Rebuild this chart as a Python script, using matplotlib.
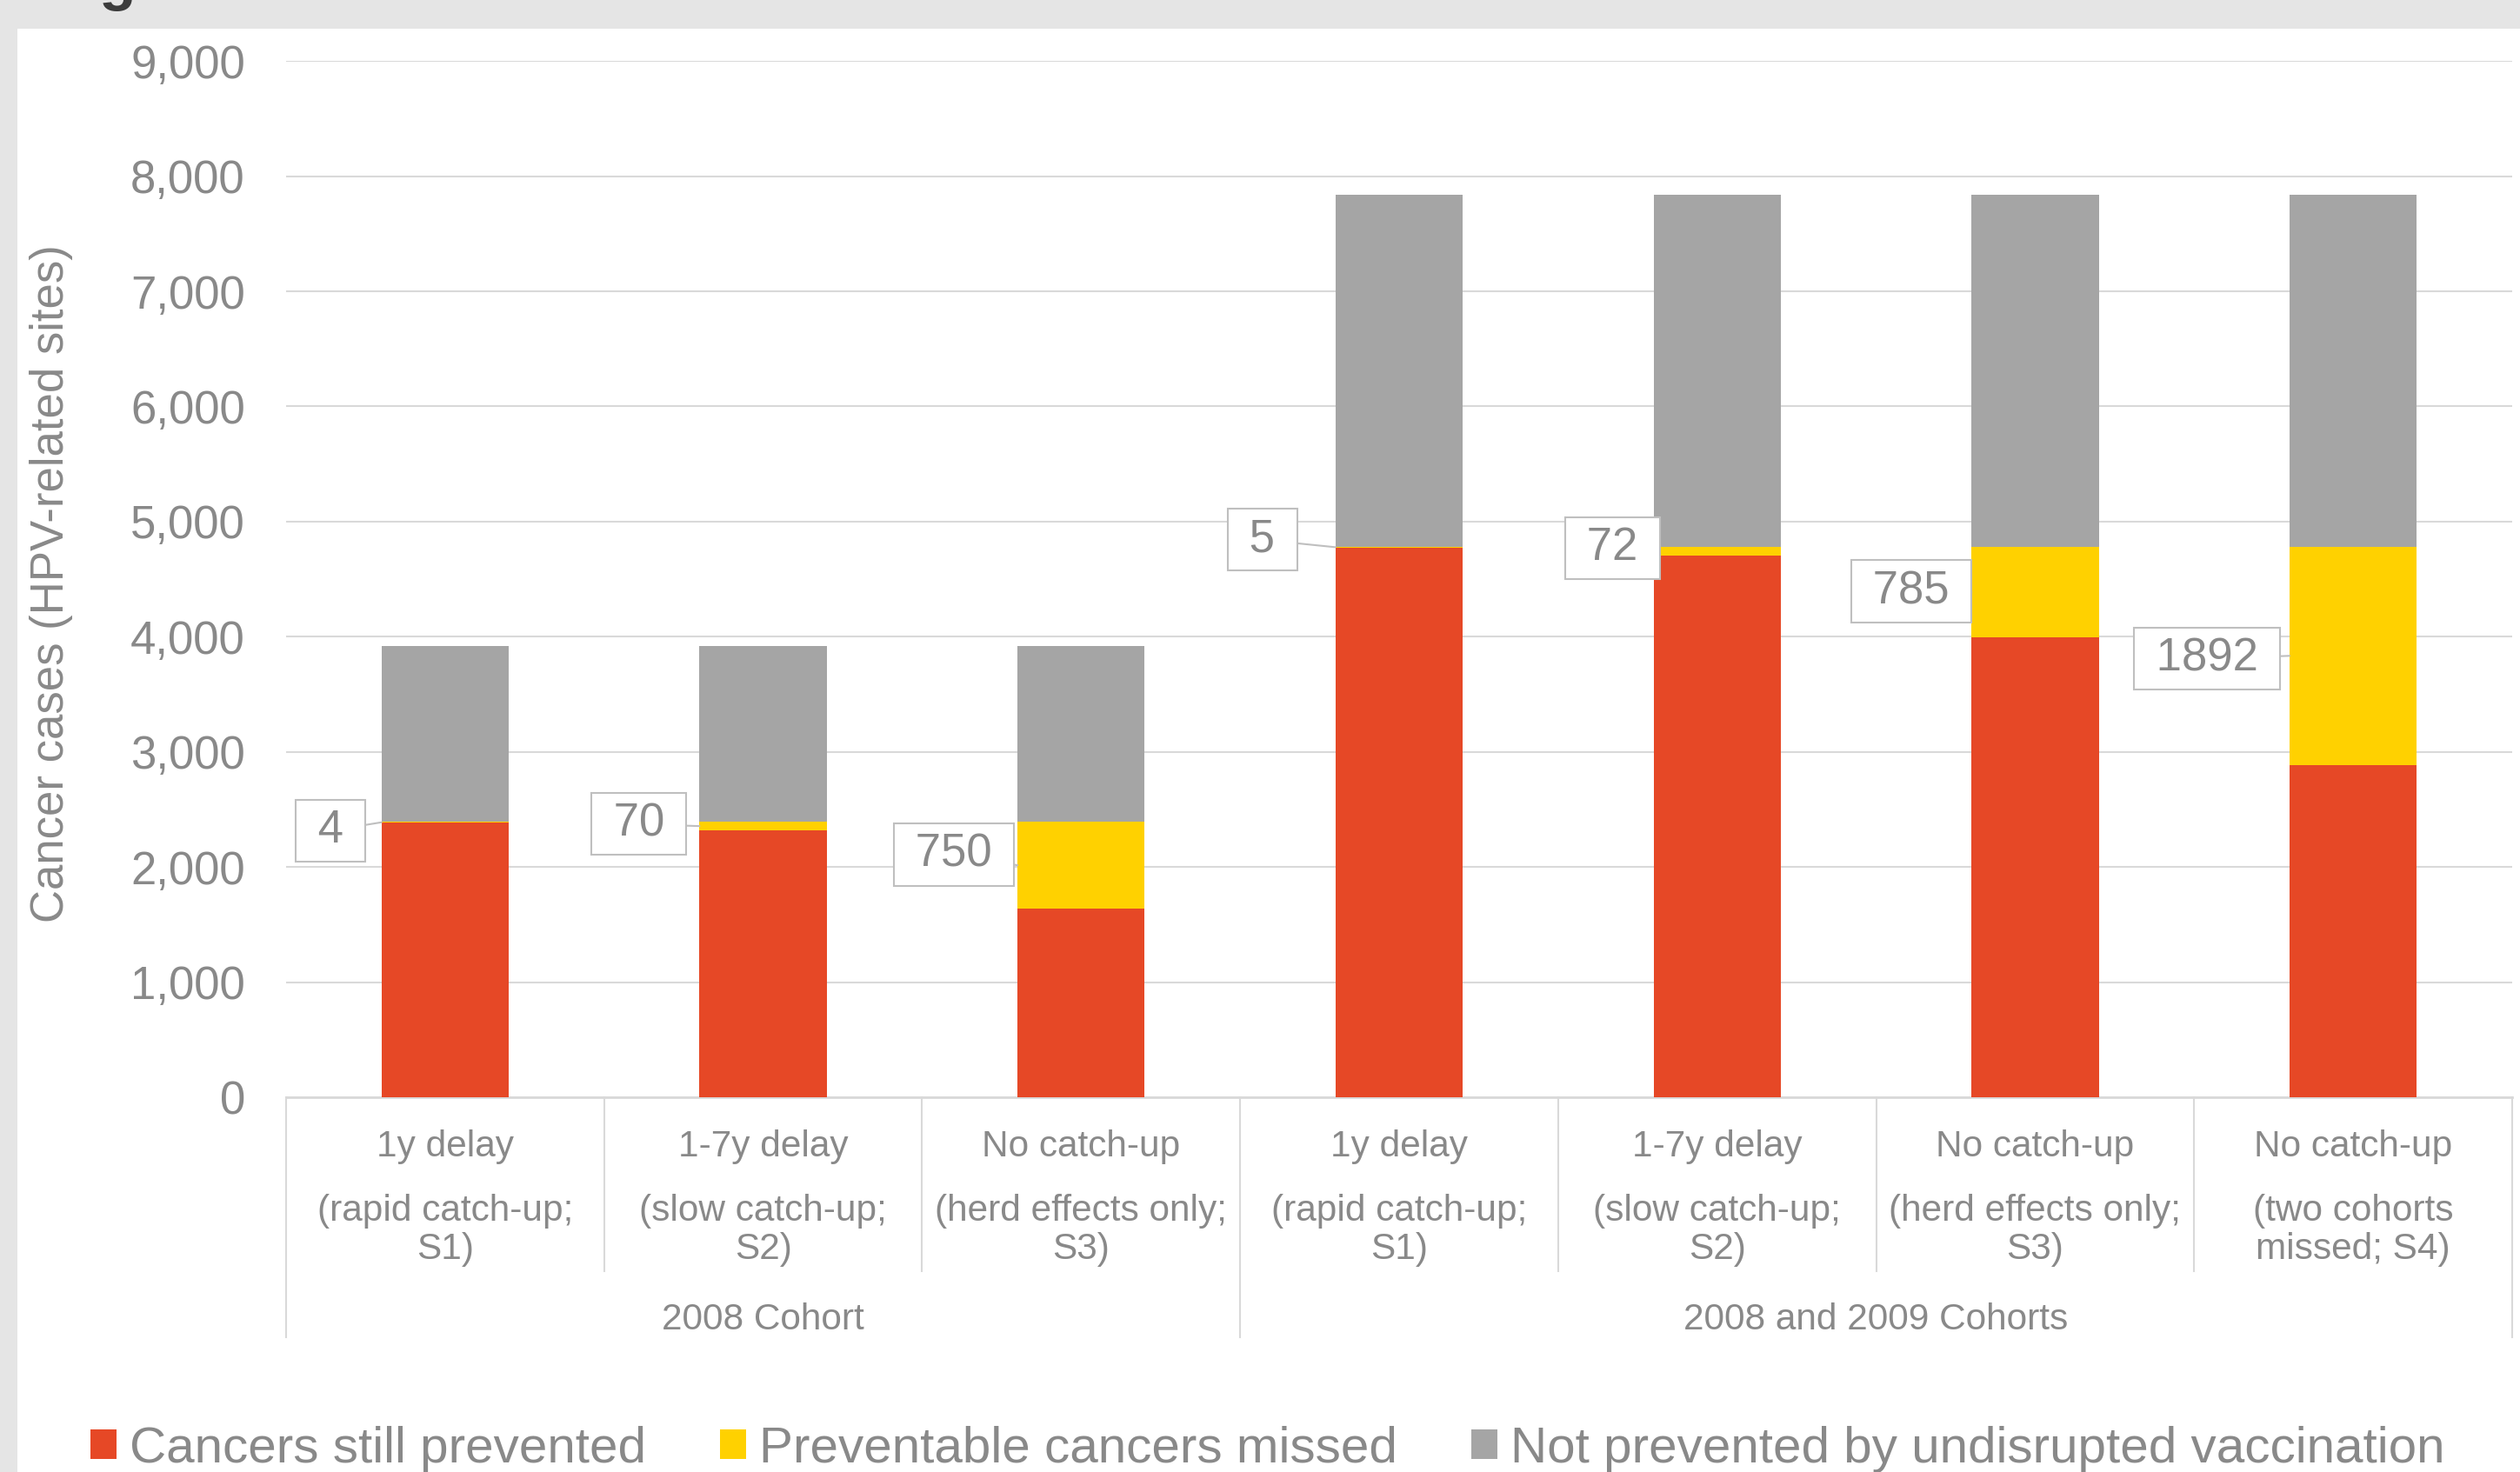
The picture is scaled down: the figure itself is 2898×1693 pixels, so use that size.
import matplotlib
matplotlib.use("Agg")
import matplotlib.pyplot as plt
from matplotlib.patches import Rectangle, Patch

# ---------------- data ----------------
line1 = ["1y delay", "1-7y delay", "No catch-up", "1y delay", "1-7y delay",
         "No catch-up", "No catch-up"]
line2 = ["(rapid catch-up;\nS1)", "(slow catch-up;\nS2)", "(herd effects only;\nS3)",
         "(rapid catch-up;\nS1)", "(slow catch-up;\nS2)", "(herd effects only;\nS3)",
         "(two cohorts\nmissed; S4)"]
groups = ["2008 Cohort", "2008 and 2009 Cohorts"]
group_sizes = [3, 4]

still_prevented = [2386, 2320, 1640, 4775, 4708, 3995, 2888]
missed = [4, 70, 750, 5, 72, 785, 1892]
not_prevented = [1530, 1530, 1530, 3060, 3060, 3060, 3060]
missed_labels = ["4", "70", "750", "5", "72", "785", "1892"]

series_names = ["Cancers still prevented", "Preventable cancers missed",
                "Not prevented by undisrupted vaccination"]
yticks = [0, 1000, 2000, 3000, 4000, 5000, 6000, 7000, 8000, 9000]

# ---------------- layout / style ----------------
label_dx = [-0.36, -0.39, -0.40, -0.43, -0.33, -0.39, -0.46]
label_y = [2316, 2372, 2107, 4842, 4772, 4395, 3809]

RED = "#E64826"
YEL = "#FFD100"
GRY = "#A5A5A5"
TXT = "#898989"
GRID = "#D9D9D9"

plt.rcParams["font.family"] = ["Liberation Sans", "DejaVu Sans"]

W, H = 2898, 1693
fig = plt.figure(figsize=(W / 100, H / 100), dpi=100)
fig.patch.set_facecolor("#E5E5E5")
fig.patches.append(Rectangle((20 / W, 0), 1 - 20 / W, 1 - 33 / H,
                             transform=fig.transFigure, facecolor="white",
                             edgecolor="none", zorder=-10))

# cut-off title glyph at top (as in the reference)
fig.text(113 / W, 1 + 1.0 / H, "g", fontsize=50, fontweight="bold",
         color="#3C3C3C", ha="left", va="baseline")

ax = fig.add_axes([329 / W, 0.2546, 2889 / W - 329 / W, 0.9585 - 0.2546])
ax.set_facecolor("white")

x = list(range(len(line1)))
bw = 0.4
bottom2 = [a + b for a, b in zip(still_prevented, missed)]
ax.bar(x, still_prevented, width=bw, color=RED, zorder=3)
ax.bar(x, missed, width=bw, bottom=still_prevented, color=YEL, zorder=3)
ax.bar(x, not_prevented, width=bw, bottom=bottom2, color=GRY, zorder=3)

ax.set_xlim(-0.5, len(x) - 0.5)
ax.set_ylim(0, 9000)
ax.set_yticks(yticks)
ax.set_yticklabels([f"{v:,}" for v in yticks])
ax.tick_params(axis="y", length=0, pad=34, labelsize=38, labelcolor=TXT)
ax.set_xticks([])
ax.yaxis.grid(True, color=GRID, linewidth=1.5, zorder=0)
ax.set_axisbelow(True)
for s in ["left", "right", "top"]:
    ax.spines[s].set_visible(False)
ax.spines["bottom"].set_color(GRID)
ax.spines["bottom"].set_linewidth(2)

# y label
fig.text(59 / W, 0.6037, "Cancer cases (HPV-related sites)", rotation=90,
         fontsize=38, color=TXT, ha="center", va="center")

# category labels and separators
tr = ax.get_xaxis_transform()
for i in x:
    ax.text(i, -0.0475, line1[i], transform=tr, ha="center", va="center",
            fontsize=30.5, color=TXT)
    ax.text(i, -0.1285, line2[i], transform=tr, ha="center", va="center",
            fontsize=30.5, color=TXT, linespacing=1.12)

bounds = [-0.5]
for g in group_sizes:
    bounds.append(bounds[-1] + g)
for b in range(len(x) + 1):
    xb = b - 0.5
    low = -0.2316 if xb in bounds else -0.168
    ax.plot([xb, xb], [0, low], transform=tr, color=GRID, lw=1.5,
            clip_on=False, zorder=1)
for gi, name in enumerate(groups):
    cx = (bounds[gi] + bounds[gi + 1]) / 2
    ax.text(cx, -0.2148, name, transform=tr, ha="center", va="center",
            fontsize=30.5, color=TXT)

# callout labels
for i in x:
    ty = still_prevented[i] + missed[i] / 2
    ax.annotate(" " + missed_labels[i] + " ", xy=(i - bw / 2, ty),
                xytext=(i + label_dx[i], label_y[i]), textcoords="data",
                ha="center", va="center", fontsize=38, color=TXT, zorder=5,
                bbox=dict(boxstyle="square,pad=0.2", fc="white", ec="#BFBFBF", lw=1.5),
                arrowprops=dict(arrowstyle="-", color="#BFBFBF", lw=1.5,
                                shrinkA=0, shrinkB=0))

# legend
handles = [Patch(facecolor=c, edgecolor="none") for c in (RED, YEL, GRY)]
fig.legend(handles, series_names, loc="center", bbox_to_anchor=(0.503, 0.0155),
           ncol=3, frameon=False, fontsize=42, labelcolor=TXT,
           handlelength=0.52, handleheight=0.52, handletextpad=0.26,
           columnspacing=1.45, borderpad=0, borderaxespad=0)

fig.savefig("out.png", dpi=100, facecolor=fig.get_facecolor())
